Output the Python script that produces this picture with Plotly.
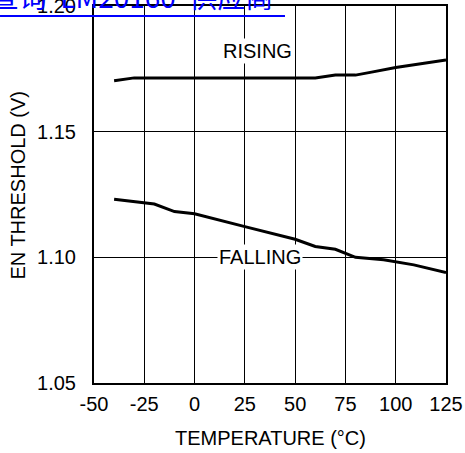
import plotly.graph_objects as go

# EN threshold vs. temperature
temp_rising = [-40, -30, 0, 25, 50, 60, 70, 80, 88, 100, 125]
v_rising = [1.1703, 1.1714, 1.1714, 1.1714, 1.1714, 1.1714, 1.1725, 1.1725, 1.1737, 1.1755, 1.1785]

temp_falling = [-40, -20, -10, 0, 25, 50, 60, 70, 80, 94, 109, 125]
v_falling = [1.1231, 1.1212, 1.1182, 1.1173, 1.1122, 1.1072, 1.1043, 1.1032, 1.1000, 1.0990, 1.0970, 1.0939]

x_ticks = [-50, -25, 0, 25, 50, 75, 100, 125]
x_tick_text = ["-50", "-25", "0", "25", "50", "75", "100", "125"]
y_ticks = [1.05, 1.10, 1.15, 1.20]
y_tick_text = ["1.05", "1.10", "1.15", "1.20"]

FONT = "Liberation Sans, Arial, sans-serif"

fig = go.Figure()
fig.add_trace(go.Scatter(x=temp_rising, y=v_rising, mode="lines",
                         line=dict(color="black", width=3), showlegend=False))
fig.add_trace(go.Scatter(x=temp_falling, y=v_falling, mode="lines",
                         line=dict(color="black", width=3), showlegend=False))

axis_common = dict(showgrid=True, gridcolor="black", gridwidth=1,
                   showline=True, linecolor="black", linewidth=2, mirror=True,
                   zeroline=False, ticks="", ticklabeloverflow="allow", automargin=False,
                   tickfont=dict(family=FONT, size=20, color="black"))

fig.update_xaxes(range=[-50, 125], tickvals=x_ticks, ticktext=x_tick_text,
                 ticklabelstandoff=2, **axis_common)
fig.update_yaxes(range=[1.05, 1.20], tickvals=y_ticks, ticktext=y_tick_text,
                 ticklabelstandoff=12, **axis_common)

ann_font = dict(family=FONT, size=20, color="black")
fig.add_annotation(x=31.5, y=1.1820, text="RISING", showarrow=False,
                   font=ann_font, bgcolor="white", borderpad=1)
fig.add_annotation(x=32.5, y=1.1001, text="FALLING", showarrow=False,
                   font=ann_font, bgcolor="white", borderpad=1)

# axis titles
fig.add_annotation(xref="paper", yref="paper", x=0.5, y=-0.146, text="TEMPERATURE (°C)",
                   showarrow=False, font=ann_font, yanchor="middle")
fig.add_annotation(xref="paper", yref="paper", x=-0.2145, y=0.525, text="EN THRESHOLD (V)",
                   textangle=-90, showarrow=False, font=ann_font, xanchor="center", yanchor="middle")

# link text at the top
fig.add_annotation(xref="paper", yref="paper", x=-0.298, y=1.027,
                   text='查询"LM20160"供应商', showarrow=False, xanchor="left", yanchor="middle",
                   font=dict(family="Noto Sans CJK SC", size=28, color="#0000FF"))
fig.add_shape(type="line", xref="paper", yref="paper", x0=-0.267, x1=0.5426,
              y0=0.9735, y1=0.9735, line=dict(color="#0000FF", width=2))

fig.update_layout(width=465, height=453, margin=dict(l=94, r=19, t=6, b=70),
                  plot_bgcolor="white", paper_bgcolor="white")

fig.write_html("out.html")
